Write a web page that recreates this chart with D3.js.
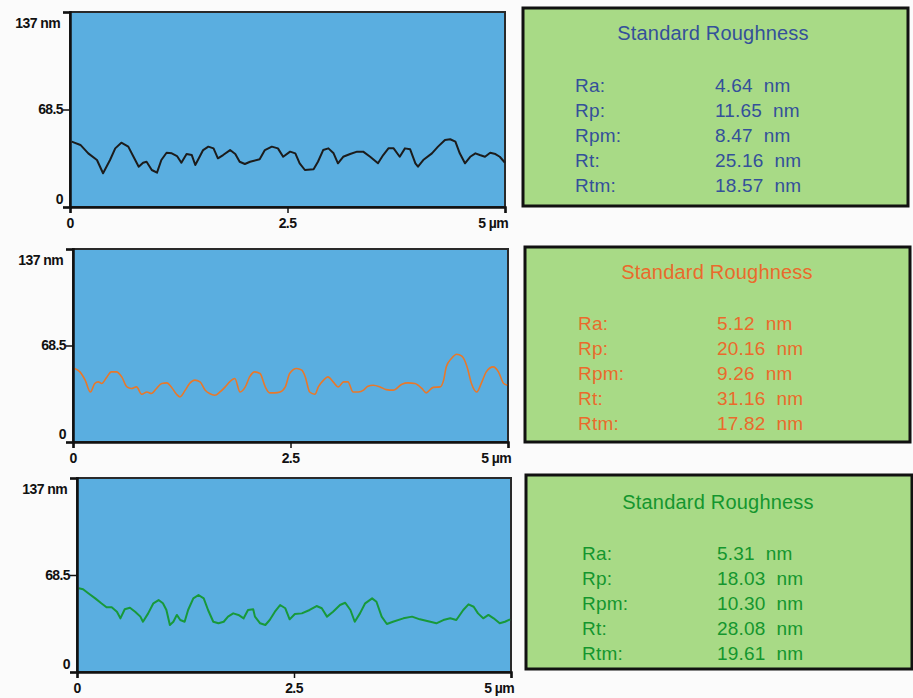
<!DOCTYPE html>
<html>
<head>
<meta charset="utf-8">
<script src="https://cdn.jsdelivr.net/npm/d3@7"></script>
<style>
  body { margin: 0; background: #fbfbfb; }
  svg { display: block; }
  .tick-label { font-family: "Liberation Sans", Arial, sans-serif; font-size: 14px; font-weight: bold; letter-spacing: -0.6px; fill: #111; }
  .box-text { font-family: "Liberation Sans", Arial, sans-serif; white-space: pre; letter-spacing: 0.2px; }
</style>
</head>
<body>
<svg width="913" height="698"></svg>
<script>
// profile data (x in µm, height in nm)
const pos1 = [0.02,0.12,0.21,0.31,0.38,0.46,0.52,0.59,0.67,0.73,0.79,0.84,0.88,0.94,1.00,1.05,1.11,1.17,1.23,1.28,1.34,1.40,1.44,1.49,1.53,1.59,1.65,1.70,1.76,1.84,1.90,1.95,2.01,2.07,2.18,2.24,2.32,2.39,2.45,2.53,2.59,2.64,2.70,2.80,2.85,2.91,2.97,3.03,3.08,3.14,3.22,3.30,3.37,3.45,3.54,3.60,3.66,3.72,3.79,3.85,3.91,3.97,4.00,4.06,4.16,4.23,4.31,4.37,4.43,4.48,4.54,4.60,4.66,4.71,4.77,4.83,4.89,4.94,5.00];
const height1 = [45.9,43.6,37.7,33.0,23.7,33.0,41.2,45.2,42.4,35.3,28.3,31.1,31.8,26.0,24.1,33.0,38.1,37.7,35.8,31.1,37.2,36.5,29.5,35.3,40.0,42.4,41.2,34.2,36.5,40.0,37.2,31.8,30.2,31.8,33.5,40.0,42.4,41.2,35.3,38.9,37.7,30.7,26.0,26.5,31.8,40.0,41.2,37.7,30.7,35.3,37.2,38.9,38.9,35.3,30.7,36.5,41.2,41.2,35.3,41.2,40.5,30.7,28.3,33.0,37.7,42.4,47.1,47.6,45.9,37.7,30.7,35.3,37.7,36.5,35.3,38.1,37.2,35.3,31.1];

const pos2 = [0.02,0.08,0.14,0.20,0.25,0.29,0.33,0.39,0.44,0.50,0.56,0.62,0.67,0.73,0.79,0.85,0.90,0.96,1.02,1.08,1.13,1.19,1.23,1.29,1.34,1.40,1.46,1.52,1.57,1.63,1.69,1.75,1.80,1.86,1.92,1.98,2.03,2.09,2.15,2.21,2.26,2.32,2.38,2.44,2.49,2.57,2.63,2.67,2.72,2.78,2.82,2.88,2.93,2.99,3.05,3.11,3.16,3.22,3.28,3.34,3.39,3.45,3.53,3.60,3.68,3.78,3.85,3.93,4.01,4.06,4.14,4.22,4.26,4.29,4.35,4.41,4.47,4.53,4.58,4.64,4.70,4.75,4.83,4.89,4.95,4.99];
const height2 = [52.2,49.8,43.9,35.5,41.5,42.7,41.5,46.2,49.8,49.8,46.2,39.1,38.0,39.1,33.9,35.5,34.4,38.0,41.5,42.0,39.1,33.9,32.0,36.8,41.5,43.9,42.7,36.8,34.4,33.2,35.5,39.1,42.7,45.1,35.5,39.1,46.2,49.8,48.6,39.1,34.9,34.9,35.5,39.1,48.6,52.2,51.0,46.2,35.5,33.9,39.1,43.9,46.2,42.7,39.1,42.7,42.7,35.5,35.5,36.8,39.6,40.3,39.1,37.2,36.8,41.0,42.0,41.5,38.0,34.9,38.8,39.1,43.9,53.3,59.3,62.3,60.9,53.3,41.5,35.5,42.7,49.8,53.3,49.8,41.5,40.3];

const pos3 = [0.02,0.07,0.13,0.21,0.28,0.34,0.40,0.46,0.50,0.55,0.61,0.67,0.73,0.76,0.82,0.88,0.94,0.99,1.03,1.07,1.11,1.15,1.19,1.24,1.28,1.34,1.40,1.46,1.51,1.57,1.63,1.69,1.74,1.80,1.86,1.92,1.97,2.03,2.05,2.11,2.17,2.22,2.28,2.34,2.40,2.45,2.51,2.59,2.68,2.76,2.82,2.88,2.95,3.03,3.09,3.15,3.20,3.26,3.32,3.40,3.45,3.51,3.57,3.64,3.76,3.86,3.95,4.07,4.14,4.22,4.30,4.37,4.45,4.51,4.57,4.62,4.68,4.74,4.80,4.87,4.93,4.99];
const height3 = [59.1,58.4,55.6,52.0,48.5,45.7,45.7,42.6,37.9,44.3,45.4,42.6,39.1,35.5,41.4,48.5,50.8,48.5,43.8,33.2,35.5,40.3,36.7,35.5,43.8,52.0,54.4,52.0,43.8,35.5,34.4,35.5,39.1,41.4,40.3,37.9,43.8,44.3,39.1,34.4,33.2,36.7,42.6,47.3,45.0,37.2,41.0,41.4,43.8,46.6,45.0,39.1,42.6,47.3,48.9,43.8,35.5,41.4,48.5,52.0,49.6,39.1,33.9,35.5,37.9,39.1,37.2,35.5,34.4,36.7,37.9,36.7,43.8,47.8,46.1,41.4,37.9,40.3,37.9,34.4,35.5,37.2];

const yTicks = [0, 68.5, 137];
const xTicks = [0, 2.5, 5];
const yTickLabels = ['0', '68.5', '137 nm'];
const xTickLabels = ['0', '2.5', '5 µm'];

const boxTitle = 'Standard Roughness';
const paramNames = ['Ra:', 'Rp:', 'Rpm:', 'Rt:', 'Rtm:'];
const rough1 = [4.64, 11.65, 8.47, 25.16, 18.57];
const rough2 = [5.12, 20.16, 9.26, 31.16, 17.82];
const rough3 = [5.31, 18.03, 10.30, 28.08, 19.61];

const svg = d3.select('svg');

// layout for each row of the figure
const rows = [
    {pos: pos1, h: height1, r: rough1, line: '#1c1c1c', lw: 2, curve: d3.curveLinear, text: '#34509a',
     plot: {l: 70, r: 505, t: 12, b: 207}, box: {l: 523, t: 8, r: 908, b: 206, lx: 52, vx: 192, tx: 190, ty: 25, ry: 77}},
    {pos: pos2, h: height2, r: rough2, line: '#e8782a', lw: 1.6, curve: d3.curveMonotoneX, text: '#ea6a2c',
     plot: {l: 73, r: 508, t: 249, b: 442}, box: {l: 525, t: 247, r: 910, b: 442, lx: 53, vx: 192, tx: 192, ty: 25, ry: 76}},
    {pos: pos3, h: height3, r: rough3, line: '#18993a', lw: 2, curve: d3.curveLinear, text: '#14962e',
     plot: {l: 77, r: 511, t: 478, b: 672}, box: {l: 526, t: 475, r: 912, b: 669, lx: 56, vx: 191, tx: 192, ty: 27, ry: 78}}
];

const drawRow = (row) => {
    const p = row.plot;
    const x = d3.scaleLinear().domain([0, 5]).range([p.l, p.r]);
    const y = d3.scaleLinear().domain([0, 137]).range([p.b, p.t]);

    svg.append('rect')
        .attr('x', p.l).attr('y', p.t)
        .attr('width', p.r - p.l).attr('height', p.b - p.t)
        .attr('fill', '#5aaee0')
        .attr('stroke', '#2a2a2a').attr('stroke-width', 2);

    const pts = row.pos.map((v, i) => [v, row.h[i]]);
    svg.append('path')
        .datum(pts)
        .attr('fill', 'none')
        .attr('stroke', row.line)
        .attr('stroke-width', row.lw)
        .attr('stroke-linejoin', 'round')
        .attr('d', d3.line().x(d => x(d[0])).y(d => y(d[1])).curve(row.curve));

    // axes
    const yAxis = svg.append('g')
        .attr('transform', `translate(${p.l},0)`)
        .call(d3.axisLeft(y).tickValues(yTicks).tickSize(7).tickFormat(''));
    const xAxis = svg.append('g')
        .attr('transform', `translate(0,${p.b})`)
        .call(d3.axisBottom(x).tickValues(xTicks).tickSize(6).tickFormat(''));
    [yAxis, xAxis].forEach(a => {
        a.select('.domain').attr('stroke', '#111').attr('stroke-width', 2.5);
        a.selectAll('.tick line').attr('stroke', '#111').attr('stroke-width', 1.5);
    });

    yTicks.forEach((t, i) => {
        let dy = '0.35em';
        if (i === 0) dy = '-0.25em';
        if (i === 2) dy = '1.15em';
        svg.append('text')
            .attr('class', 'tick-label')
            .attr('x', i === 2 ? p.l - 10 : p.l - 7).attr('y', y(t)).attr('dy', dy)
            .attr('text-anchor', 'end')
            .text(yTickLabels[i]);
    });
    xTicks.forEach((t, i) => {
        svg.append('text')
            .attr('class', 'tick-label')
            .attr('x', i === 2 ? x(t) + 3 : x(t)).attr('y', p.b + 21)
            .attr('text-anchor', i === 2 ? 'end' : 'middle')
            .text(xTickLabels[i]);
    });

    // roughness box
    const b = row.box;
    svg.append('rect')
        .attr('x', b.l).attr('y', b.t)
        .attr('width', b.r - b.l).attr('height', b.b - b.t)
        .attr('fill', '#a8da86')
        .attr('stroke', '#111').attr('stroke-width', 3);

    svg.append('text')
        .attr('class', 'box-text')
        .attr('x', b.l + b.tx).attr('y', b.t + b.ty).attr('dy', '0.35em')
        .attr('text-anchor', 'middle')
        .attr('font-size', 20)
        .attr('fill', row.text)
        .text(boxTitle);

    paramNames.forEach((name, i) => {
        const yy = b.t + b.ry + i * 25;
        svg.append('text')
            .attr('class', 'box-text')
            .attr('x', b.l + b.lx).attr('y', yy).attr('dy', '0.35em')
            .attr('font-size', 19)
            .attr('fill', row.text)
            .text(name);
        svg.append('text')
            .attr('class', 'box-text')
            .attr('x', b.l + b.vx).attr('y', yy).attr('dy', '0.35em')
            .attr('font-size', 19)
            .attr('fill', row.text)
            .text(row.r[i].toFixed(2) + '  nm');
    });
};

rows.forEach(drawRow);
</script>
</body>
</html>
